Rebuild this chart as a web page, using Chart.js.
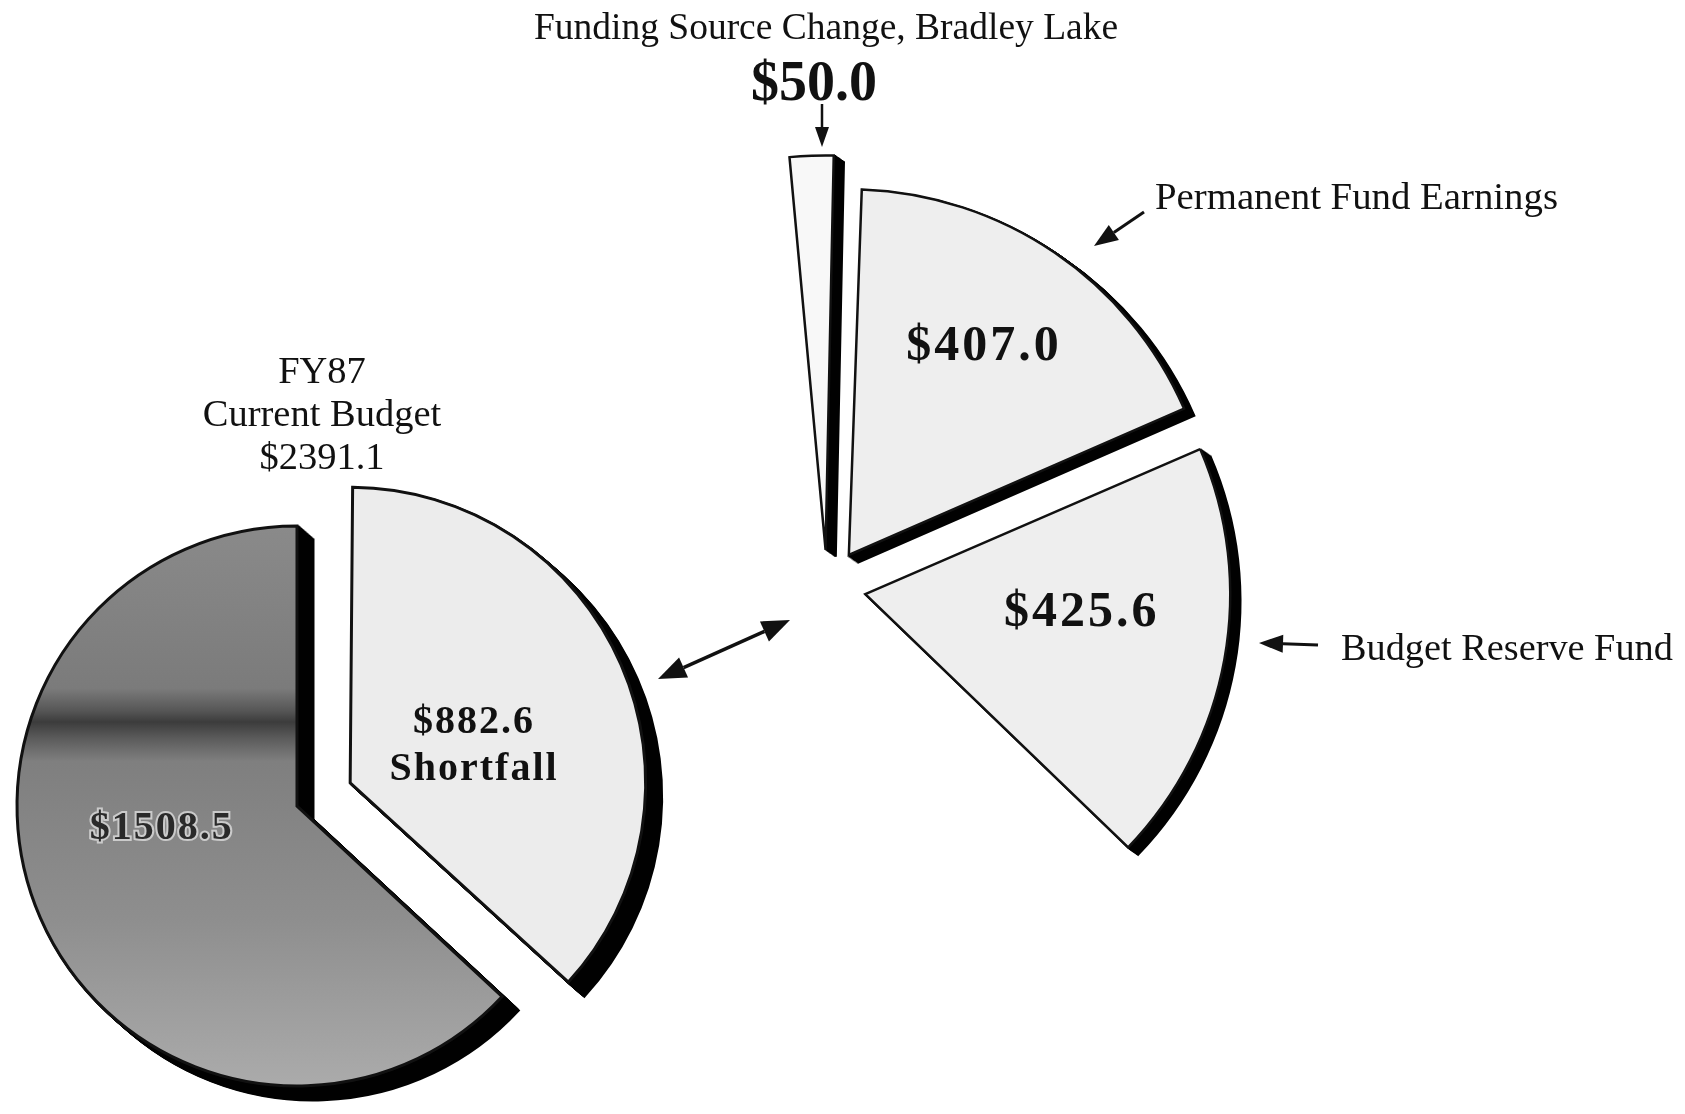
<!DOCTYPE html>
<html>
<head>
<meta charset="utf-8">
<title>FY87 Current Budget</title>
<script src="https://cdn.jsdelivr.net/npm/chart.js@4/dist/chart.umd.min.js"></script>
<style>
  html, body { margin: 0; padding: 0; background: #fff; }
  #page { position: relative; width: 1685px; height: 1114px; overflow: hidden; background: #fff;
          font-family: "Liberation Serif", "Times New Roman", serif; color: #111; }
  canvas { position: absolute; }
  svg { position: absolute; left: 0; top: 0; }
  .lbl { position: absolute; white-space: nowrap; font-size: 37.5px; line-height: 1; }
  .c { transform: translate(-50%, -50%); text-align: center; }
  .l { transform: translateY(-50%); }
</style>
</head>
<body>
<div id="page">
  <canvas id="leftPie" width="800" height="800"></canvas>
  <canvas id="rightPie" width="1000" height="1000"></canvas>
  <svg id="arrows" width="1685" height="1114"></svg>
  <div id="fyTitle" class="lbl c" style="left:322px; top:413px; line-height:43px; font-size:38.5px;"></div>
  <div id="bradleyName" class="lbl c" style="left:826px; top:27px;"></div>
  <div id="bradleyValue" class="lbl c" style="left:814px; top:81px; font-size:56px; font-weight:bold;"></div>
  <div id="permName" class="lbl l" style="left:1155px; top:196px; font-size:38.8px;"></div>
  <div id="reserveName" class="lbl l" style="left:1341px; top:647px; font-size:38.3px;"></div>
</div>

<script>
// FY87 budget, millions of dollars
const budgetLabels = ['Shortfall', 'Funded'];
const budgetValues = [882.6, 1508.5];

// how the shortfall gets covered
const sourceLabels = ['Funding Source Change, Bradley Lake', 'Permanent Fund Earnings', 'Budget Reserve Fund'];
const sourceValues = [50.0, 407.0, 425.6];

const money = v => '$' + v.toFixed(1);
const budgetTotal = budgetValues.reduce((a, b) => a + b, 0);

// where each pie sits on the page
const LEFT = { cx: 297, cy: 806, r: 280, size: 800 };
const RIGHT = { cx: 827, cy: 587, r: 362, size: 1000, rotation: -6, circumference: 140 };

// a partial pie gets re-centred by chart.js, work out by how much
function arcBoxOffset(rotDeg, circDeg) {
  const start = (rotDeg - 90) * Math.PI / 180;
  const end = start + circDeg * Math.PI / 180;
  const inside = a => {
    let t = a;
    while (t < start) t += 2 * Math.PI;
    while (t > start + 2 * Math.PI) t -= 2 * Math.PI;
    return t <= end;
  };
  const sx = Math.cos(start), sy = Math.sin(start), ex = Math.cos(end), ey = Math.sin(end);
  const maxX = inside(0) ? 1 : Math.max(sx, ex, 0);
  const maxY = inside(Math.PI / 2) ? 1 : Math.max(sy, ey, 0);
  const minX = inside(Math.PI) ? -1 : Math.min(sx, ex, 0);
  const minY = inside(-Math.PI / 2) ? -1 : Math.min(sy, ey, 0);
  return { x: -(maxX + minX) / 2, y: -(maxY + minY) / 2 };
}

function place(id, cx, cy, size) {
  const el = document.getElementById(id);
  el.style.left = (cx - size / 2) + 'px';
  el.style.top = (cy - size / 2) + 'px';
}
place('leftPie', LEFT.cx, LEFT.cy, LEFT.size);
const shift = arcBoxOffset(RIGHT.rotation, RIGHT.circumference);
place('rightPie', RIGHT.cx - shift.x * RIGHT.r, RIGHT.cy - shift.y * RIGHT.r, RIGHT.size);

// thick black "3d" edge: the slices stamped in black a few px down-right
const extrude = {
  id: 'extrude',
  beforeDatasetsDraw(chart, args, opts) {
    const ctx = chart.ctx;
    const arcs = chart.getDatasetMeta(0).data;
    const steps = Math.ceil(Math.max(Math.abs(opts.dx), Math.abs(opts.dy)));
    for (let k = steps; k >= 1; k--) {
      ctx.save();
      ctx.translate(opts.dx * k / steps, opts.dy * k / steps);
      ctx.filter = 'brightness(0.1)';
      arcs.forEach(a => a.draw(ctx));
      ctx.restore();
    }
  }
};

// value text inside the slices
const sliceText = {
  id: 'sliceText',
  afterDatasetsDraw(chart, args, opts) {
    const ctx = chart.ctx;
    chart.getDatasetMeta(0).data.forEach((a, i) => {
      const lines = opts.lines[i];
      if (!lines) return;
      const mid = (a.startAngle + a.endAngle) / 2 + opts.turn[i] * Math.PI / 180;
      const d = (a.options.offset || 0) / 4 + opts.radial[i] * a.outerRadius;
      const x = a.x + Math.cos(mid) * d;
      const y = a.y + Math.sin(mid) * d;
      ctx.save();
      ctx.font = opts.font;
      ctx.letterSpacing = opts.spacing;
      ctx.textAlign = 'center';
      ctx.textBaseline = 'middle';
      lines.forEach((t, j) => {
        const ly = y + (j - (lines.length - 1) / 2) * opts.lineHeight;
        if (opts.halo[i]) {
          ctx.strokeStyle = opts.halo[i];
          ctx.lineWidth = 4;
          ctx.strokeText(t, x, ly);
        }
        ctx.fillStyle = opts.color[i];
        ctx.fillText(t, x, ly);
      });
      ctx.restore();
    });
  }
};

// shortfall is plain light grey, the funded part a halftone-ish grey with the dark scan band
function budgetFill(c) {
  if (c.dataIndex === 0) return '#ececec';
  const chart = c.chart;
  const area = chart.chartArea;
  if (!area) return '#888';
  const midY = (area.top + area.bottom) / 2;
  const g = chart.ctx.createLinearGradient(0, midY - LEFT.r, 0, midY + LEFT.r);
  g.addColorStop(0, '#8a8a8a');
  g.addColorStop(0.29, '#7b7b7b');
  g.addColorStop(0.33, '#565656');
  g.addColorStop(0.35, '#3c3c3c');
  g.addColorStop(0.38, '#5c5c5c');
  g.addColorStop(0.42, '#7f7f7f');
  g.addColorStop(0.7, '#8e8e8e');
  g.addColorStop(1, '#ababab');
  return g;
}

new Chart(document.getElementById('leftPie'), {
  type: 'pie',
  data: {
    labels: budgetLabels,
    datasets: [{
      data: budgetValues,
      backgroundColor: budgetFill,
      borderColor: '#111',
      borderWidth: 3,
      borderJoinStyle: 'miter',
      offset: [232, 0]
    }]
  },
  options: {
    responsive: false,
    animation: false,
    events: [],
    radius: LEFT.r,
    rotation: 0,
    plugins: {
      legend: { display: false },
      tooltip: { enabled: false },
      extrude: { dx: 16, dy: 14 },
      sliceText: {
        lines: [[money(budgetValues[0]), budgetLabels[0]], [money(budgetValues[1])]],
        radial: [0.46, 0.49],
        turn: [5, 14],
        font: 'bold 40px "Liberation Serif", serif',
        spacing: '2px',
        lineHeight: 47,
        color: ['#111', '#2a2a2a'],
        halo: [null, 'rgba(225,225,225,0.75)']
      }
    }
  },
  plugins: [extrude, sliceText]
});

new Chart(document.getElementById('rightPie'), {
  type: 'pie',
  data: {
    labels: sourceLabels,
    datasets: [{
      data: sourceValues,
      backgroundColor: ['#f8f8f8', '#eeeeee', '#eeeeee'],
      borderColor: '#111',
      borderWidth: 2.5,
      borderJoinStyle: 'miter',
      offset: [150, 156, 156]
    }]
  },
  options: {
    responsive: false,
    animation: false,
    events: [],
    radius: RIGHT.r,
    rotation: RIGHT.rotation,
    circumference: RIGHT.circumference,
    plugins: {
      legend: { display: false },
      tooltip: { enabled: false },
      extrude: { dx: 10, dy: 7 },
      sliceText: {
        lines: [null, [money(sourceValues[1])], [money(sourceValues[2])]],
        radial: [0, 0.685, 0.6],
        turn: [0, -1, -4.5],
        font: 'bold 50px "Liberation Serif", serif',
        spacing: '3px',
        lineHeight: 50,
        color: ['#111', '#111', '#111'],
        halo: [null, null, null]
      }
    }
  },
  plugins: [extrude, sliceText]
});

// outside labels
document.getElementById('fyTitle').innerHTML = 'FY87<br>Current Budget<br>' + money(budgetTotal);
document.getElementById('bradleyName').textContent = sourceLabels[0];
document.getElementById('bradleyValue').textContent = money(sourceValues[0]);
document.getElementById('permName').textContent = sourceLabels[1];
document.getElementById('reserveName').textContent = sourceLabels[2];

// pointer arrows
const arrows = [
  { from: [822, 104], to: [822, 147], head: 20, w: 14, lw: 2.5, both: false },
  { from: [1144, 212], to: [1094, 246], head: 24, w: 18, lw: 3, both: false },
  { from: [1318, 645], to: [1259, 643], head: 24, w: 18, lw: 3, both: false },
  { from: [658, 679], to: [790, 620], head: 28, w: 22, lw: 3.5, both: true }
];
const svg = document.getElementById('arrows');
const NS = 'http://www.w3.org/2000/svg';
function headAt(tip, ux, uy, len, w) {
  const bx = tip[0] - ux * len, by = tip[1] - uy * len;
  const p = document.createElementNS(NS, 'polygon');
  p.setAttribute('points', [
    tip[0] + ',' + tip[1],
    (bx - uy * w / 2) + ',' + (by + ux * w / 2),
    (bx + uy * w / 2) + ',' + (by - ux * w / 2)
  ].join(' '));
  p.setAttribute('fill', '#111');
  svg.appendChild(p);
  return [bx, by];
}
arrows.forEach(a => {
  const dx = a.to[0] - a.from[0], dy = a.to[1] - a.from[1];
  const len = Math.hypot(dx, dy), ux = dx / len, uy = dy / len;
  const end = headAt(a.to, ux, uy, a.head, a.w);
  const start = a.both ? headAt(a.from, -ux, -uy, a.head, a.w) : a.from;
  const line = document.createElementNS(NS, 'line');
  line.setAttribute('x1', start[0]); line.setAttribute('y1', start[1]);
  line.setAttribute('x2', end[0]); line.setAttribute('y2', end[1]);
  line.setAttribute('stroke', '#111');
  line.setAttribute('stroke-width', a.lw);
  svg.appendChild(line);
});
</script>
</body>
</html>
